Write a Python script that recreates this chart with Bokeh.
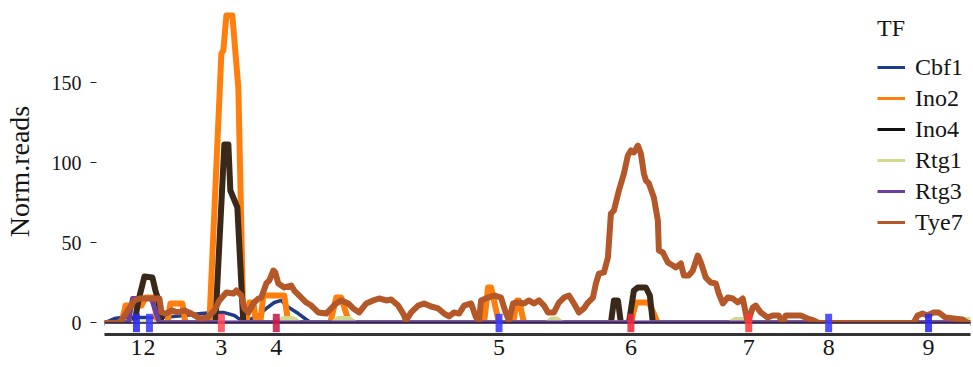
from bokeh.plotting import figure
from bokeh.models import FixedTicker, Range1d, BoxAnnotation, Span, Legend, LegendItem
from bokeh.embed import file_html
from bokeh.resources import INLINE

# ---------------- data (position along the region, normalised reads) ----------------
cbf1 = [(0, 0), (10, 2.8), (17, 3.4), (57, 3.4), (80, 4.7), (97, 5.9), (110, 6.6), (119, 6.6),
        (130, 4.7), (137, 1.6), (144, 1.6), (154, 4.7), (162, 9.1), (170, 12.8), (177, 14.1),
        (183, 10.3), (194, 5.9), (202, 2.2), (207, 0), (867, 0)]

ino2 = [(0, 0), (17, 0), (21, 10.9), (37, 10.9), (41, 15.9), (49, 15.9), (53, 0),
        (63, 0), (66, 12.2), (78, 12.2), (81, 0),
        (105, 0), (109, 55.9), (117, 168.4), (119, 170.3), (122, 192.2), (128, 192.2), (134, 147.2), (139, 0),
        (142, 0), (145, 12.8), (149, 12.8), (152, 0),
        (156, 0), (159, 17.2), (180, 17.2), (184, 0),
        (226, 0), (232, 15.9), (237, 15.9), (245, 0),
        (380, 0), (384, 22.2), (387, 22.2), (395, 0),
        (409, 0), (413, 14.1), (415, 14.1), (420, 0),
        (527, 0), (532, 12.8), (545, 12.8), (554, 0), (867, 0)]

ino4 = [(0, 0), (30, 0), (34, 14.1), (40, 29.1), (48, 28.4), (51, 20.3), (54, 14.1), (57, 0),
        (111, 0), (120, 111.6), (124, 111.6), (126, 82.8), (133, 72.2), (139, 0),
        (507, 0), (510, 14.1), (514, 14.1), (517, 0),
        (525, 0), (530, 20.3), (534, 22.2), (542, 22.2), (546, 17.2), (549, 0), (867, 0)]

rtg1 = [(0, 0), (173, 0), (179, 2.8), (189, 2.8), (195, 0), (228, 0), (234, 2.8), (245, 2.8), (251, 0),
        (443, 0), (448, 2.5), (453, 2.5), (458, 0), (626, 0), (631, 2.2), (639, 2.2), (644, 0),
        (859, 0), (863, 2.2), (867, 2.2)]

rtg3 = [(0, 0), (24, 0), (28, 15.3), (47, 15.3), (55, 0), (867, 0)]

tye7 = [(0, 0), (13, 0), (17, 1.6), (30, 14.1), (35, 15.3), (55, 15.3), (57, 6.6), (62, 5.9), (67, 7.8),
        (74, 6.6), (80, 7.8), (87, 5.9), (94, 3.4), (97, 2.8), (103, 3.4), (110, 7.8), (115, 14.1),
        (122, 19.1), (129, 18.4), (132, 20.3), (137, 17.2), (140, 9.1), (144, 6.6), (149, 12.2),
        (154, 15.3), (157, 15.9), (162, 24.7), (165, 26.6), (169, 32.8), (171, 31.6), (174, 24.7),
        (180, 22.2), (187, 23.4), (190, 20.3), (197, 15.9), (202, 12.8), (207, 10.9), (214, 6.6),
        (222, 5.9), (227, 9.1), (232, 12.2), (237, 14.1), (244, 12.2), (249, 9.1), (255, 6.6),
        (262, 12.2), (269, 14.1), (275, 15.3), (282, 14.1), (287, 14.7), (294, 10.9), (299, 5.9),
        (302, 1.6), (307, 6.6), (314, 10.9), (320, 12.2), (327, 10.3), (334, 9.1), (340, 5.9),
        (345, 4.1), (350, 6.6), (355, 5.9), (360, 10.9), (367, 12.2), (372, 3.4), (375, 1.6),
        (377, 14.1), (384, 15.9), (390, 17.2), (397, 15.9), (402, 5.9), (405, 1.6), (409, 12.2),
        (414, 12.8), (420, 12.2), (425, 14.1), (430, 12.2), (435, 14.1), (440, 10.9), (444, 6.6),
        (450, 6.6), (455, 12.8), (460, 15.9), (465, 17.2), (470, 12.2), (475, 6.6), (480, 9.1),
        (484, 12.8), (489, 15.9), (492, 24.7), (495, 30.9), (500, 31.6), (504, 40.9), (507, 68.4),
        (510, 70.3), (515, 82.8), (520, 93.4), (524, 104.7), (527, 107.8), (530, 106.6), (534, 110.9),
        (537, 105.9), (540, 93.4), (542, 89.1), (545, 87.2), (550, 78.4), (554, 64.1), (555, 45.3),
        (559, 44.1), (564, 37.8), (569, 35.9), (572, 34.7), (577, 37.2), (580, 29.7), (585, 29.7),
        (589, 32.8), (594, 42.2), (597, 37.8), (602, 28.4), (607, 25.3), (612, 24.7), (615, 18.4),
        (619, 12.2), (624, 15.9), (629, 15.3), (634, 12.8), (639, 15.3), (644, 0.3), (649, 9.7),
        (652, 10.9), (657, 6.6), (664, 3.4), (669, 4.7), (675, 4.7), (679, 0.3), (682, 4.7),
        (697, 4.7), (704, 2.8), (710, 1.6), (715, 0), (810, 0), (814, 4.7), (819, 5.9), (824, 4.7),
        (830, 6.6), (835, 6.6), (842, 3.4), (850, 2.8), (859, 2.2), (864, 0), (867, 0)]

tf_names = ["Cbf1", "Ino2", "Ino4", "Rtg1", "Rtg3", "Tye7"]
tf_series = [cbf1, ino2, ino4, rtg1, rtg3, tye7]
tf_colors = ["#1f3c88", "#ff7f0e", "#3a2818", "#d3d98c", "#6b3fa0", "#b4582a"]
tf_legend_colors = ["#1f3c88", "#ff7f0e", "#111111", "#d3d98c", "#6b3fa0", "#b4582a"]
tf_widths = [3.5, 6, 6, 5, 5, 6]

site_pos = [32, 45, 117, 172, 395, 527, 645, 725, 825]
site_labels = ["1", "2", "3", "4", "5", "6", "7", "8", "9"]
site_colors = ["#2a2af5", "#3a3aff", "#ff4a5a", "#cc1a4a", "#3a3aff", "#f0283c", "#ff3a3a", "#3a3aff", "#2a2af0"]

y_ticks = [0, 50, 100, 150]

FONT = "Liberation Serif"
TXT = "#151515"
SITE_HALF = 5.75        # half height of a motif-site mark (style)

# ---------------- figure ----------------
p = figure(width=973, height=367, output_backend="svg", toolbar_location=None,
           x_range=Range1d(0, 867), y_range=Range1d(-7.19, 196.56),
           min_border_left=103, min_border_right=3, min_border_top=8, min_border_bottom=33)
p.outline_line_color = None
p.grid.visible = False
p.background_fill_color = "white"
p.border_fill_color = "white"

for name, ser, col, w in zip(tf_names, tf_series, tf_colors, tf_widths):
    xs = [a for a, b in ser]
    ys = [b for a, b in ser]
    p.line(xs, ys, line_color=col, line_width=w, line_join="round")

# lower half of the zero-level lines is hidden below the baseline
mask = BoxAnnotation(top=0, fill_color="white", fill_alpha=1.0, line_alpha=0)
p.add_layout(mask)
p.add_layout(Span(location=0, dimension="width", line_color="#1f1640", line_width=1.5))

# motif sites
p.vbar(x=site_pos, width=7, bottom=-SITE_HALF, top=SITE_HALF, fill_color=site_colors,
       line_color=None, fill_alpha=0.88, level="overlay")

# axes
xa = p.xaxis[0]
xa.ticker = FixedTicker(ticks=site_pos)
xa.major_label_overrides = {sp: lab for sp, lab in zip(site_pos, site_labels)}
xa.major_tick_in = 0
xa.major_tick_out = 0
xa.minor_tick_line_color = None
xa.axis_line_width = 3
xa.axis_line_color = "#333333"
xa.major_label_standoff = 5
xa.major_label_text_font = FONT
xa.major_label_text_font_size = "24px"
xa.major_label_text_color = TXT
xa.level = "overlay"

ya = p.yaxis[0]
ya.ticker = FixedTicker(ticks=y_ticks)
ya.axis_line_color = None
ya.major_tick_in = -8
ya.major_tick_out = 14
ya.major_tick_line_color = "#222222"
ya.major_tick_line_width = 1.2
ya.minor_tick_line_color = None
ya.major_label_standoff = 9
ya.major_label_text_font = FONT
ya.major_label_text_font_size = "20px"
ya.major_label_text_color = TXT
ya.axis_label = "Norm.reads"
ya.axis_label_text_font = FONT
ya.axis_label_text_font_size = "28px"
ya.axis_label_text_font_style = "normal"
ya.axis_label_text_color = TXT
ya.axis_label_standoff = 14

# legend keys: thin lines (kept out of view, used only as legend keys)
items = []
for name, col in zip(tf_names, tf_legend_colors):
    r = p.line([0, 1], [-1000, -1000], line_color=col, line_width=3)
    items.append(LegendItem(label=name, renderers=[r]))
legend = Legend(items=items, location=(773, 97), title="TF",
                title_text_font=FONT, title_text_font_size="24px", title_text_font_style="normal",
                title_text_color=TXT, title_standoff=10,
                label_text_font=FONT, label_text_font_size="24px", label_text_color=TXT,
                glyph_width=28, glyph_height=20, label_height=30, label_standoff=10,
                spacing=1, padding=5, margin=0,
                border_line_color=None, background_fill_alpha=0)
p.add_layout(legend)

open("out.html", "w").write(file_html(p, INLINE))
